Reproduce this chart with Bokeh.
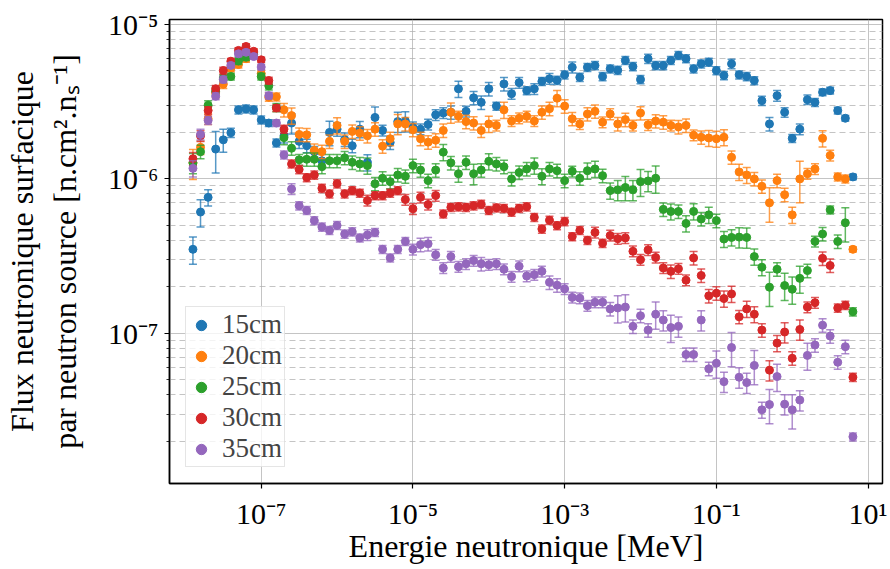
import numpy as np
from bokeh.plotting import figure
from bokeh.models import (ColumnDataSource, FixedTicker, Range1d, Legend, LegendItem,
                          CustomJSTickFormatter)
from bokeh.embed import file_html
from bokeh.resources import INLINE

# Energy bins (log10 of MeV), 10 bins per decade
energy_exponent = [round(-7.9 + 0.1 * i, 1) for i in range(88)]

labels = ["15cm", "20cm", "25cm", "30cm", "35cm"]
colors = ["#1f77b4", "#ff7f0e", "#2ca02c", "#d62728", "#9467bd"]

flux_15cm = [3.5e-7, 6.1e-7, 7.6e-7, 1.56e-6, 1.79e-6, 1.99e-6, 2.8e-6, 2.84e-6, 2.8e-6, 2.41e-6,
             2.3e-6, 1.71e-6, 1.9e-6, 2.3e-6, 1.75e-6, 1.64e-6, 1.5e-6, 1.31e-6, 2.0e-6, 2.1e-6,
             1.8e-6, 1.64e-6, 2.1e-6, 1.28e-6, 2.5e-6, 2.06e-6, 1.72e-6, 2.35e-6, 2.37e-6, 2.16e-6,
             2.1e-6, 2.25e-6, 2.6e-6, 2.67e-6, 2.7e-6, 3.83e-6, 2.74e-6, 3.35e-6, 3.13e-6, 3.83e-6,
             2.96e-6, 4.12e-6, 3.56e-6, 4.2e-6, 3.73e-6, 3.83e-6, 4.28e-6, 4.45e-6, 4.35e-6, 4.72e-6,
             5.28e-6, 4.55e-6, 5.28e-6, 5.42e-6, 4.6e-6, 5.16e-6, 5.05e-6, 5.85e-6, 5.34e-6, 4.4e-6,
             6.0e-6, 5.42e-6, 5.42e-6, 5.85e-6, 6.3e-6, 6.0e-6, 5.16e-6, 5.56e-6, 5.7e-6, 5.03e-6,
             4.67e-6, 5.56e-6, 4.72e-6, 4.6e-6, 4.33e-6, 3.21e-6, 2.27e-6, 3.46e-6, 2.7e-6, 1.83e-6,
             2.1e-6, 3.26e-6, 3.13e-6, 3.64e-6, 3.73e-6, 2.77e-6, 2.47e-6, 1.03e-6]
flux_20cm = [1.27e-6, 1.6e-6, 2.45e-6, 3.6e-6, 4.1e-6, 5.2e-6, 5.5e-6, 6.0e-6, 6.6e-6, 4.8e-6,
             3.38e-6, 3.4e-6, 2.8e-6, 2.57e-6, 1.94e-6, 1.93e-6, 1.53e-6, 1.5e-6, 1.75e-6, 2.22e-6,
             1.75e-6, 2.03e-6, 1.98e-6, 1.9e-6, 2.1e-6, 1.63e-6, 1.82e-6, 2.27e-6, 2.27e-6, 2.08e-6,
             1.82e-6, 1.73e-6, 1.78e-6, 2.06e-6, 2.7e-6, 2.54e-6, 2.35e-6, 2.3e-6, 2.06e-6, 2.27e-6,
             2.22e-6, 2.8e-6, 2.37e-6, 2.47e-6, 2.54e-6, 2.37e-6, 2.7e-6, 2.85e-6, 3.33e-6, 2.96e-6,
             2.45e-6, 2.27e-6, 2.63e-6, 2.74e-6, 2.33e-6, 2.63e-6, 2.27e-6, 2.42e-6, 2.22e-6, 2.67e-6,
             2.24e-6, 2.37e-6, 2.33e-6, 2.22e-6, 2.17e-6, 2.22e-6, 1.92e-6, 1.86e-6, 1.84e-6, 1.82e-6,
             1.86e-6, 1.38e-6, 1.11e-6, 1.06e-6, 1.0e-6, 8.96e-7, 7.0e-7, 9.75e-7, 7.9e-7, 5.85e-7,
             1.0e-6, 1.08e-6, 1.16e-6, 1.83e-6, 1.42e-6, 1.03e-6, 1.0e-6, 3.5e-7]
flux_25cm = [1.27e-6, 1.5e-6, 3.0e-6, 3.7e-6, 4.5e-6, 4.6e-6, 5.8e-6, 6.14e-6, 6.4e-6, 4.6e-6,
             4.0e-6, 2.9e-6, 1.85e-6, 1.58e-6, 1.33e-6, 1.34e-6, 1.34e-6, 1.2e-6, 1.31e-6, 1.31e-6,
             1.37e-6, 1.28e-6, 1.25e-6, 1.22e-6, 9.3e-7, 1.01e-6, 9.6e-7, 1.06e-6, 1.04e-6, 1.22e-6,
             1.14e-6, 9.75e-7, 1.14e-6, 1.49e-6, 1.27e-6, 1.08e-6, 1.28e-6, 1.08e-6, 1.14e-6, 1.3e-6,
             1.25e-6, 1.2e-6, 1.0e-6, 1.1e-6, 1.16e-6, 1.22e-6, 1.04e-6, 1.16e-6, 1.13e-6, 9.75e-7,
             1.12e-6, 1.01e-6, 1.13e-6, 1.16e-6, 1.05e-6, 8.4e-7, 8.5e-7, 8.8e-7, 8.5e-7, 9.6e-7,
             9.7e-7, 1.01e-6, 6.35e-7, 6.15e-7, 6.15e-7, 5.15e-7, 6.16e-7, 5.5e-7, 5.85e-7, 5.37e-7,
             4.08e-7, 4.18e-7, 4.2e-7, 4.18e-7, 3.14e-7, 2.68e-7, 1.99e-7, 2.6e-7, 2.04e-7, 1.93e-7,
             2.27e-7, 2.55e-7, 3.94e-7, 4.4e-7, 6.3e-7, 3.94e-7, 5.2e-7, 1.38e-7]
flux_30cm = [1.35e-6, 1.9e-6, 2.77e-6, 3.83e-6, 5.03e-6, 5.78e-6, 6.79e-6, 7.2e-6, 6.7e-6, 5.9e-6,
             4.33e-6, 2.88e-6, 2.1e-6, 1.25e-6, 1.15e-6, 1.02e-6, 1.06e-6, 8.7e-7, 8.0e-7, 9.3e-7,
             8.0e-7, 8.4e-7, 8.1e-7, 7.25e-7, 7.8e-7, 7.8e-7, 8.1e-7, 8.4e-7, 7.35e-7, 6.4e-7,
             7.6e-7, 6.83e-7, 7.8e-7, 5.93e-7, 6.55e-7, 6.6e-7, 6.55e-7, 6.7e-7, 6.85e-7, 6.25e-7,
             6.5e-7, 6.45e-7, 6.1e-7, 6.45e-7, 6.6e-7, 5.64e-7, 4.74e-7, 5.4e-7, 4.99e-7, 5.3e-7,
             4.23e-7, 4.64e-7, 4.0e-7, 4.5e-7, 3.83e-7, 4.3e-7, 4.1e-7, 4.15e-7, 3.4e-7, 3.0e-7,
             3.47e-7, 3.1e-7, 2.65e-7, 2.52e-7, 2.62e-7, 2.21e-7, 3.08e-7, 2.37e-7, 1.75e-7, 1.82e-7,
             1.68e-7, 1.8e-7, 1.28e-7, 1.44e-7, 1.33e-7, 1.05e-7, 5.78e-8, 8.65e-8, 1.02e-7, 6.9e-8,
             1.06e-7, 1.48e-7, 1.58e-7, 3.06e-7, 2.75e-7, 1.46e-7, 1.52e-7, 5.2e-8]
flux_35cm = [1.17e-6, 1.94e-6, 2.39e-6, 3.43e-6, 4.4e-6, 5.43e-6, 6.45e-6, 6.6e-6, 6.2e-6, 5.3e-6,
             3.46e-6, 2.3e-6, 1.43e-6, 8.6e-7, 6.7e-7, 6.25e-7, 5.37e-7, 4.88e-7, 4.64e-7, 5.0e-7,
             4.4e-7, 4.55e-7, 4.15e-7, 4.34e-7, 4.5e-7, 3.5e-7, 3.08e-7, 3.5e-7, 3.94e-7, 3.5e-7,
             3.75e-7, 3.8e-7, 3.23e-7, 2.65e-7, 3.14e-7, 2.7e-7, 2.82e-7, 2.96e-7, 2.82e-7, 2.78e-7,
             2.82e-7, 2.6e-7, 2.33e-7, 2.72e-7, 2.35e-7, 2.4e-7, 2.52e-7, 2.14e-7, 2.05e-7, 1.94e-7,
             1.71e-7, 1.69e-7, 1.51e-7, 1.59e-7, 1.59e-7, 1.44e-7, 1.46e-7, 1.48e-7, 1.11e-7, 1.3e-7,
             1.05e-7, 1.33e-7, 1.22e-7, 1.09e-7, 1.11e-7, 7.3e-8, 7.3e-8, 1.22e-7, 5.9e-8, 6.4e-8,
             4.87e-8, 8.1e-8, 5.2e-8, 4.8e-8, 6.2e-8, 3.2e-8, 3.46e-8, 5.25e-8, 3.48e-8, 3.2e-8,
             3.7e-8, 7.2e-8, 8.4e-8, 1.13e-7, 9.6e-8, 6.5e-8, 8.2e-8, 2.14e-8]

# relative uncertainties (fraction of the value)
relerr_15cm = [0.2, 0.2, 0.12, 0.3, 0.17, 0.07, 0.06, 0.06, 0.06, 0.06, 0.05, 0.06,
               0.1, 0.15, 0.1, 0.1, 0.08, 0.1, 0.18, 0.1, 0.1, 0.1, 0.12,
               0.12, 0.17, 0.08, 0.1, 0.15, 0.15, 0.08, 0.08, 0.08, 0.08, 0.08, 0.1,
               0.12, 0.08, 0.1, 0.1, 0.1, 0.06, 0.1, 0.08, 0.08, 0.06, 0.08, 0.06, 0.08, 0.06, 0.06,
               0.08, 0.06, 0.06, 0.06, 0.06, 0.06, 0.06, 0.06, 0.06, 0.06, 0.07, 0.06, 0.06, 0.06,
               0.06, 0.06, 0.06, 0.06, 0.06, 0.06,
               0.06, 0.07, 0.06, 0.06, 0.06, 0.07, 0.1, 0.08, 0.07, 0.06, 0.08, 0.07, 0.06, 0.05,
               0.05, 0.05, 0.04, 0.04]
relerr_20cm = [0.22, 0.1, 0.08, 0.07, 0.06, 0.05, 0.05, 0.05, 0.05, 0.05, 0.06, 0.06,
               0.1, 0.12, 0.1, 0.1, 0.1, 0.1, 0.1, 0.12, 0.1, 0.1, 0.1, 0.1, 0.1, 0.1, 0.1, 0.15,
               0.1, 0.1, 0.1, 0.1,
               0.1, 0.1, 0.15, 0.08, 0.1, 0.1, 0.1, 0.12, 0.08, 0.12, 0.08, 0.08, 0.08, 0.08, 0.1,
               0.1, 0.12, 0.1, 0.1, 0.08,
               0.1, 0.1, 0.08, 0.08, 0.1, 0.1, 0.08, 0.1, 0.08, 0.1, 0.1, 0.08, 0.1, 0.1, 0.08, 0.1,
               0.12, 0.12, 0.12, 0.1,
               0.12, 0.12, 0.1, 0.1, 0.25, 0.1, 0.1, 0.12, 0.3, 0.08, 0.08, 0.12, 0.08, 0.06, 0.06,
               0.04]
relerr_25cm = [0.15, 0.1, 0.07, 0.06, 0.05, 0.05, 0.05, 0.05, 0.05, 0.05, 0.06, 0.06,
               0.1, 0.1, 0.08, 0.1, 0.1, 0.1, 0.1, 0.1, 0.1, 0.1, 0.1, 0.12, 0.1, 0.1, 0.1, 0.1,
               0.1, 0.1, 0.1, 0.1,
               0.1, 0.12, 0.1, 0.12, 0.1, 0.15, 0.1, 0.12, 0.1, 0.1, 0.1, 0.1, 0.1, 0.12, 0.12,
               0.1, 0.1, 0.1, 0.08, 0.1,
               0.12, 0.12, 0.1, 0.12, 0.15, 0.18, 0.15, 0.2, 0.15, 0.2, 0.1, 0.12, 0.1, 0.12, 0.12,
               0.1, 0.12, 0.1, 0.12, 0.12,
               0.15, 0.15, 0.12, 0.12, 0.25, 0.1, 0.2, 0.2, 0.2, 0.1, 0.08, 0.1, 0.06, 0.1, 0.25,
               0.06]
relerr_30cm = [0.1, 0.08, 0.06, 0.05, 0.05, 0.04, 0.04, 0.04, 0.04, 0.04, 0.05, 0.05,
               0.06, 0.06, 0.06, 0.06, 0.06, 0.06, 0.06, 0.06, 0.06, 0.06, 0.06, 0.08, 0.06, 0.06,
               0.06, 0.06, 0.08, 0.08, 0.08, 0.08,
               0.08, 0.06, 0.06, 0.06, 0.06, 0.06, 0.06, 0.06, 0.06, 0.06, 0.06, 0.06, 0.06, 0.06,
               0.06, 0.06, 0.06, 0.06, 0.06, 0.06,
               0.06, 0.08, 0.06, 0.08, 0.08, 0.08, 0.08, 0.08, 0.08, 0.08, 0.08, 0.1, 0.08, 0.08,
               0.1, 0.1, 0.1, 0.1, 0.12, 0.12,
               0.1, 0.12, 0.12, 0.1, 0.15, 0.12, 0.15, 0.1, 0.15, 0.08, 0.08, 0.1, 0.1, 0.06, 0.06,
               0.06]
relerr_35cm = [0.12, 0.08, 0.06, 0.05, 0.05, 0.04, 0.04, 0.04, 0.04, 0.04, 0.05, 0.05,
               0.06, 0.08, 0.06, 0.06, 0.06, 0.06, 0.06, 0.06, 0.06, 0.06, 0.06, 0.08, 0.06, 0.06,
               0.06, 0.06, 0.06, 0.08, 0.1, 0.1,
               0.08, 0.08, 0.08, 0.08, 0.08, 0.08, 0.1, 0.08, 0.08, 0.08, 0.08, 0.08, 0.08, 0.08,
               0.08, 0.1, 0.1, 0.08, 0.08, 0.08,
               0.08, 0.08, 0.08, 0.1, 0.2, 0.2, 0.1, 0.1, 0.1, 0.2, 0.15, 0.2, 0.15, 0.1, 0.1, 0.15,
               0.1, 0.2, 0.15, 0.25,
               0.15, 0.15, 0.25, 0.12, 0.25, 0.2, 0.15, 0.25, 0.15, 0.2, 0.1, 0.1, 0.1, 0.1, 0.1,
               0.06]

fluxes = [flux_15cm, flux_20cm, flux_25cm, flux_30cm, flux_35cm]
relerrs = [relerr_15cm, relerr_20cm, relerr_25cm, relerr_30cm, relerr_35cm]

x_ticks = [1e-7, 1e-5, 1e-3, 1e-1, 1e1]
y_ticks = [1e-7, 1e-6, 1e-5]

FONT = "Liberation Serif"

energy = 10.0 ** np.array(energy_exponent)

p = figure(width=889, height=568, x_axis_type="log", y_axis_type="log",
           x_range=Range1d(10 ** -8.209, 10 ** 1.19),
           y_range=Range1d(10 ** -7.972, 10 ** -4.968),
           output_backend="svg", toolbar_location=None,
           min_border_left=167, min_border_right=7, min_border_top=19, min_border_bottom=85)

sup_fmt = CustomJSTickFormatter(code="""
const e = Math.round(Math.log10(tick));
const sup = {'-':'\u207b','0':'\u2070','1':'\u00b9','2':'\u00b2','3':'\u00b3','4':'\u2074',
             '5':'\u2075','6':'\u2076','7':'\u2077','8':'\u2078','9':'\u2079'};
return '10' + String(e).split('').map(c => sup[c]).join('');
""")

minor_y = []
for d in (1e-8, 1e-7, 1e-6):
    for m in range(2, 10):
        minor_y.append(m * d)

p.xaxis.ticker = FixedTicker(ticks=x_ticks, minor_ticks=[])
p.yaxis.ticker = FixedTicker(ticks=y_ticks, minor_ticks=minor_y)
p.xaxis.formatter = sup_fmt
p.yaxis.formatter = sup_fmt

for ax in (p.xaxis[0], p.yaxis[0]):
    ax.major_label_text_font = FONT
    ax.major_label_text_font_size = "30px"
    ax.major_label_text_color = "black"
    ax.axis_label_text_font = FONT
    ax.axis_label_text_font_size = "32px"
    ax.axis_label_text_font_style = "normal"
    ax.axis_label_text_color = "black"
    ax.axis_line_color = "black"
    ax.axis_line_width = 1.5
    ax.major_tick_line_color = "black"
    ax.major_tick_line_width = 1.2
    ax.minor_tick_line_color = "black"
    ax.minor_tick_line_width = 0.8
    ax.major_tick_in = 0
    ax.major_tick_out = 5
    ax.minor_tick_in = 0
    ax.minor_tick_out = 3

p.xaxis.axis_label = "Energie neutronique [MeV]"
p.xaxis.major_label_standoff = 8
p.xaxis.axis_label_standoff = -5
p.yaxis.axis_label = "Flux neutronique surfacique\npar neutron source [n.cm\u00b2.n\u209b\u207b\u00b9]"
p.yaxis.axis_label_text_line_height = 1.2
p.yaxis.major_label_standoff = 6
p.yaxis.axis_label_standoff = 22

p.outline_line_color = "black"
p.outline_line_width = 1.5

p.xgrid.grid_line_color = "#b0b0b0"
p.xgrid.grid_line_alpha = 0.75
p.ygrid.grid_line_color = "#b0b0b0"
p.ygrid.grid_line_alpha = 0.75
p.ygrid.minor_grid_line_color = "#b0b0b0"
p.ygrid.minor_grid_line_alpha = 0.75
p.ygrid.minor_grid_line_dash = "6 4"

items = []
for label, vals, errs, color in zip(labels, fluxes, relerrs, colors):
    y = np.array(vals)
    e = y * np.array(errs)
    src = ColumnDataSource(dict(x=energy, y=y, lo=y - e, hi=y + e))
    p.segment(x0="x", y0="lo", x1="x", y1="hi", source=src,
              line_color=color, line_width=1.5, line_alpha=0.75)
    p.scatter(x="x", y="lo", source=src, marker="dash", size=8,
              line_color=color, line_width=1.5, line_alpha=0.75)
    p.scatter(x="x", y="hi", source=src, marker="dash", size=8,
              line_color=color, line_width=1.5, line_alpha=0.75)
    r = p.scatter(x="x", y="y", source=src, marker="circle", size=8,
                  fill_color=color, line_color=color)
    items.append(LegendItem(label=label, renderers=[r]))

legend = Legend(items=items, location=(16, 16))
legend.label_text_font = FONT
legend.label_text_font_size = "27px"
legend.label_text_line_height = 0.9
legend.padding = 2
legend.spacing = 0
legend.label_height = 26
legend.glyph_height = 26
legend.glyph_width = 26
legend.label_standoff = 8
legend.margin = 0
legend.border_line_color = "#cccccc"
legend.border_line_width = 1.5
legend.background_fill_alpha = 0.8
p.add_layout(legend)

open("out.html", "w").write(file_html(p, INLINE))
